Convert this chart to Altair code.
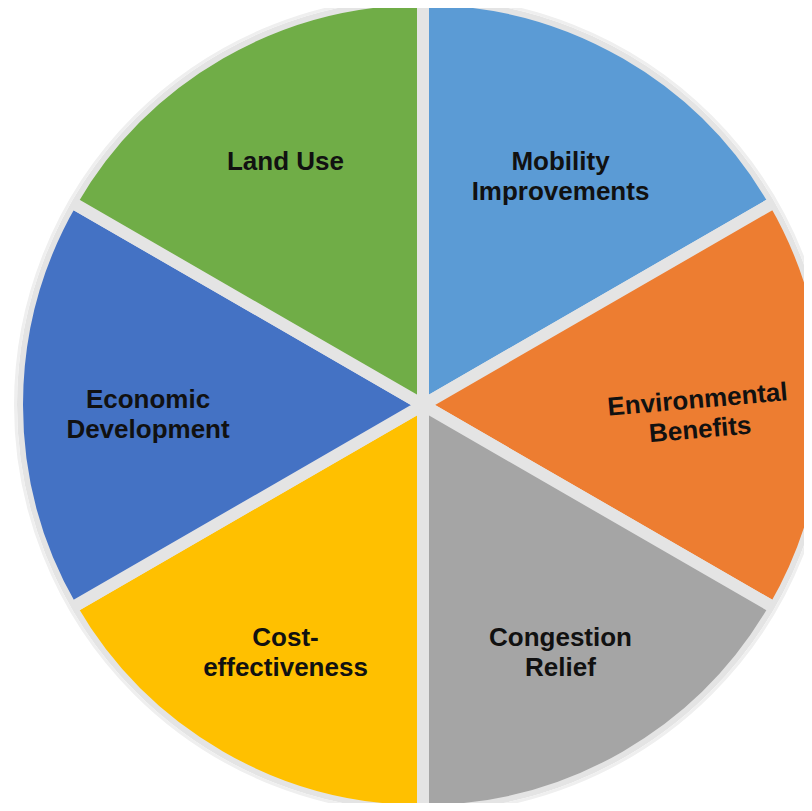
import altair as alt
import pandas as pd

categories = ["Mobility Improvements", "Environmental Benefits", "Congestion Relief",
              "Cost-effectiveness", "Economic Development", "Land Use"]
labels = ["Mobility\nImprovements", "Environmental\nBenefits", "Congestion\nRelief",
          "Cost-\neffectiveness", "Economic\nDevelopment", "Land Use"]
values = [1, 1, 1, 1, 1, 1]
colors = ["#5B9BD5", "#ED7D31", "#A5A5A5", "#FFC000", "#4472C4", "#70AD47"]

df = pd.DataFrame({"category": categories, "label": labels, "value": values,
                   "order": list(range(len(categories)))})

R = 406
CX, CY = 415, 397

base = alt.Chart(df).encode(
    theta=alt.Theta("value:Q", stack=True),
    order=alt.Order("order:Q"),
    x=alt.value(CX),
    y=alt.value(CY),
)

arcs = base.mark_arc(radius=R, stroke="#E4E4E4", strokeWidth=12).encode(
    color=alt.Color("category:N", scale=alt.Scale(domain=categories, range=colors), legend=None)
)

ring_df = pd.DataFrame({"v": [1]})
# white ring hiding the outer part of the separator stroke (Vega symbol size = (2r)^2)
r_white = R + 7
ring = alt.Chart(ring_df).mark_point(shape="circle", filled=False, stroke="white", strokeWidth=14,
                                     opacity=1, size=(2 * r_white) ** 2).encode(
    x=alt.value(CX), y=alt.value(CY)
)
# faint shadow edge
r_sh = R + 1.5
shadow = alt.Chart(ring_df).mark_point(shape="circle", filled=False, stroke="#EFEFEF", strokeWidth=3,
                                       opacity=1, size=(2 * r_sh) ** 2).encode(
    x=alt.value(CX), y=alt.value(CY)
)

text = base.mark_text(radius=275, dy=-5, font="Liberation Sans", fontWeight="bold", fontSize=26,
                      lineBreak="\n", lineHeight=30, color="#111111").encode(
    text="label:N",
    angle=alt.condition(alt.datum.category == "Environmental Benefits", alt.value(355), alt.value(0)),
)

chart = alt.layer(arcs, ring, shadow, text).properties(
    width=796, height=795, padding=0, autosize=alt.AutoSizeParams(type="none")
).configure_view(stroke=None)

chart.save("out.html", embed_options={"renderer": "svg", "actions": False})
